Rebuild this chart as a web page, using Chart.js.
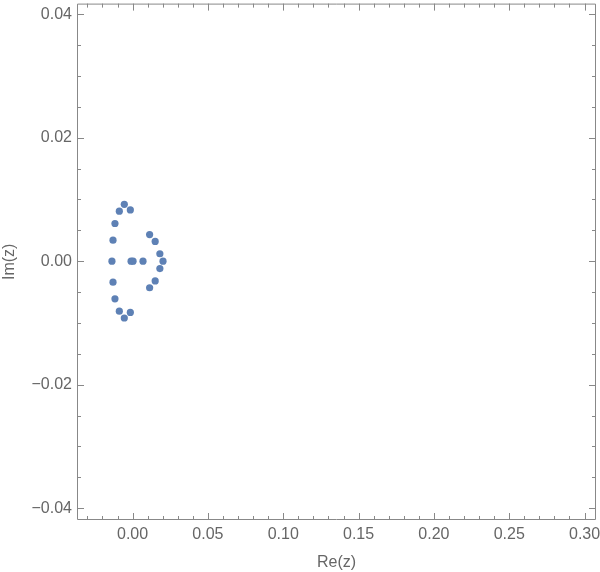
<!DOCTYPE html>
<html>
<head>
<meta charset="utf-8">
<script src="https://cdn.jsdelivr.net/npm/chart.js@4/dist/chart.umd.min.js"></script>
<style>
  html, body { margin: 0; padding: 0; background: #fff; }
  #wrap { width: 600px; height: 572px; }
</style>
</head>
<body>
<div id="wrap"><canvas id="roots"></canvas></div>
<script>
// roots in the complex plane
const reParts = [-0.0137, -0.0130, -0.0117, -0.0088, -0.0055, -0.0015,
                 -0.0130, -0.0117, -0.0088, -0.0055, -0.0015,
                 -0.0010, 0.0003, 0.0069,
                 0.0113, 0.0150, 0.0181, 0.0202,
                 0.0113, 0.0150, 0.0181];
const imParts = [0, 0.0034, 0.0061, 0.0081, 0.0092, 0.0083,
                 -0.0034, -0.0061, -0.0081, -0.0092, -0.0083,
                 0, 0, 0,
                 0.0043, 0.0032, 0.0012, 0,
                 -0.0043, -0.0032, -0.0012];
const xTicks = [0, 0.05, 0.10, 0.15, 0.20, 0.25, 0.30];
const yTicks = [-0.04, -0.02, 0, 0.02, 0.04];

const points = reParts.map((r, i) => ({ x: r, y: imParts[i] }));

function fmt(v) {
  let s = Math.abs(v) < 1e-9 ? '0.00' : v.toFixed(2);
  return s.replace('-', '\u2212');
}

const font16 = { family: 'Liberation Sans, Arial, sans-serif', size: 16 };

// frame with inward ticks, mathematica style
const framePlugin = {
  id: 'frame',
  afterDraw(chart) {
    const { ctx, chartArea: a, scales } = chart;
    const xs = scales.x, ys = scales.y;
    ctx.save();
    ctx.strokeStyle = '#888';
    ctx.lineWidth = 1;
    ctx.beginPath();
    ctx.rect(a.left + 0.5, a.top + 0.5, a.right - a.left - 1, a.bottom - a.top - 1);
    ctx.stroke();
    ctx.beginPath();
    // x ticks: minor every 0.01, major every 0.05
    for (let k = -3; k <= 30; k++) {
      const px = Math.round(xs.getPixelForValue(k / 100)) + 0.5;
      if (px < a.left + 1 || px > a.right - 1) continue;
      const len = k % 5 === 0 ? 7 : 4;
      ctx.moveTo(px, a.bottom); ctx.lineTo(px, a.bottom - len);
      ctx.moveTo(px, a.top); ctx.lineTo(px, a.top + len);
    }
    // y ticks: minor every 0.005, major every 0.02
    for (let k = -8; k <= 8; k++) {
      const py = Math.round(ys.getPixelForValue(k * 0.005)) + 0.5;
      if (py < a.top + 1 || py > a.bottom - 1) continue;
      const len = k % 4 === 0 ? 7 : 4;
      ctx.moveTo(a.left, py); ctx.lineTo(a.left + len, py);
      ctx.moveTo(a.right, py); ctx.lineTo(a.right - len, py);
    }
    ctx.stroke();
    ctx.restore();
  }
};

new Chart(document.getElementById('roots'), {
  type: 'scatter',
  data: {
    datasets: [{
      data: points,
      backgroundColor: '#5e81b5',
      borderWidth: 0,
      pointRadius: 3.6,
      pointHoverRadius: 3.6
    }]
  },
  options: {
    responsive: true,
    maintainAspectRatio: false,
    animation: false,
    layout: { padding: { left: 0, right: 4, top: 2, bottom: 0 } },
    plugins: { legend: { display: false }, tooltip: { enabled: false } },
    scales: {
      x: {
        type: 'linear',
        min: -0.0369,
        max: 0.3076,
        grid: { display: false, drawTicks: false },
        border: { display: false },
        afterFit(s) { s.height = 52; s.paddingLeft = 0; s.paddingRight = 0; },
        afterBuildTicks(s) { s.ticks = xTicks.map(v => ({ value: v })); },
        ticks: {
          padding: 5,
          color: '#666',
          font: font16,
          maxRotation: 0,
          autoSkip: false,
          callback: v => fmt(v)
        },
        title: {
          display: true,
          text: 'Re(z)',
          color: '#666',
          font: font16,
          padding: { top: 0, bottom: 0 }
        }
      },
      y: {
        type: 'linear',
        min: -0.0419,
        max: 0.0417,
        grid: { display: false, drawTicks: false },
        border: { display: false },
        afterFit(s) { s.width = 77; s.paddingTop = 0; s.paddingBottom = 0; },
        afterBuildTicks(s) { s.ticks = yTicks.map(v => ({ value: v })); },
        ticks: {
          padding: 5,
          color: '#666',
          font: font16,
          autoSkip: false,
          callback: v => fmt(v)
        },
        title: {
          display: true,
          text: 'Im(z)',
          color: '#666',
          font: font16,
          padding: { top: 0, bottom: 0 }
        }
      }
    }
  },
  plugins: [framePlugin]
});
</script>
</body>
</html>
